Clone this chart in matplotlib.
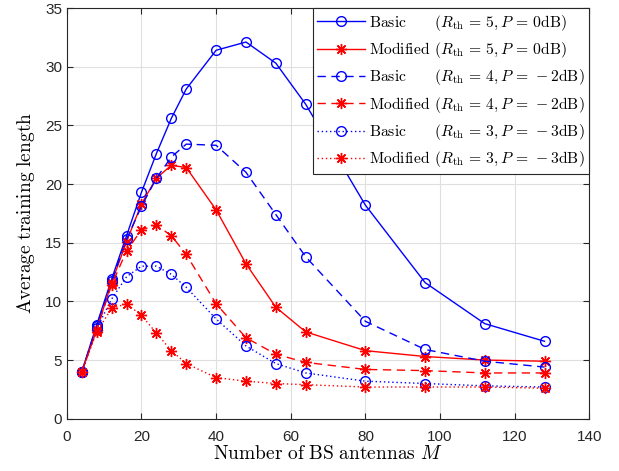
import matplotlib
matplotlib.use("Agg")
import matplotlib.pyplot as plt

# number of BS antennas
M = [4, 8, 12, 16, 20, 24, 28, 32, 40, 48, 56, 64, 80, 96, 112, 128]

basic_r5 = [4.0, 8.0, 11.9, 15.6, 19.3, 22.6, 25.6, 28.1, 31.4, 32.1, 30.3, 26.8, 18.2, 11.6, 8.1, 6.6]
modified_r5 = [4.0, 7.6, 11.6, 15.1, 18.3, 20.5, 21.6, 21.4, 17.8, 13.2, 9.5, 7.4, 5.8, 5.3, 5.0, 4.9]
basic_r4 = [4.0, 7.9, 11.7, 15.3, 18.1, 20.5, 22.3, 23.4, 23.3, 21.0, 17.4, 13.8, 8.3, 5.9, 4.9, 4.4]
modified_r4 = [4.0, 7.6, 11.4, 14.3, 16.1, 16.5, 15.6, 14.0, 9.8, 6.9, 5.5, 4.8, 4.2, 4.1, 3.9, 3.9]
basic_r3 = [4.0, 7.7, 10.2, 12.1, 13.0, 13.0, 12.3, 11.2, 8.5, 6.2, 4.7, 3.9, 3.2, 3.0, 2.8, 2.7]
modified_r3 = [4.0, 7.4, 9.4, 9.8, 8.8, 7.3, 5.8, 4.7, 3.5, 3.2, 3.0, 2.9, 2.7, 2.7, 2.7, 2.6]

params = [("5", "0"), ("5", "0"), ("4", "-2"), ("4", "-2"), ("3", "-3"), ("3", "-3")]
names = ["Basic", "Modified"] * 3

plt.rcParams["mathtext.fontset"] = "cm"
plt.rcParams["font.family"] = ["Liberation Sans", "DejaVu Sans"]

fig = plt.figure(figsize=(6.19, 4.71), dpi=100)
ax = fig.add_axes([0.108, 0.111, 0.844, 0.872])

# measure text widths so that the "(" of all legend rows line up
LEG_FS = 11.25
renderer = fig.canvas.get_renderer()


def width(s):
    t = fig.text(0, 0, s, fontsize=LEG_FS)
    w = t.get_window_extent(renderer).width
    t.remove()
    return w


unit = width(r"$x\hspace{4}x$") / 4 - width(r"$xx$") / 4
w_basic = width(r"$\mathrm{Basic}x$")
w_mod = width(r"$\mathrm{Modified}x$")
base_gap = 0.4
gaps = {"Modified": base_gap, "Basic": base_gap + (w_mod - w_basic) / unit}

labels = []
for name, (r, p) in zip(names, params):
    labels.append(r"$\mathrm{%s}\hspace{%.3f}(R_{\mathrm{th}}\,=\,%s, P\,=\,%s\mathrm{dB})$"
                  % (name, gaps[name], r, p))

star = (8, 2, 0)
circ = dict(marker="o", markersize=7, markerfacecolor="none", markeredgewidth=1)
ast = dict(marker=star, markersize=8, markeredgewidth=1)

ax.plot(M, basic_r5, color="b", linestyle="-", lw=1, label=labels[0], **circ)
ax.plot(M, modified_r5, color="r", linestyle="-", lw=1, label=labels[1], **ast)
ax.plot(M, basic_r4, color="b", linestyle=(0, (6, 4)), lw=1, label=labels[2], **circ)
ax.plot(M, modified_r4, color="r", linestyle=(0, (6, 4)), lw=1, label=labels[3], **ast)
ax.plot(M, basic_r3, color="b", linestyle=(0, (1, 2)), lw=1, label=labels[4], **circ)
ax.plot(M, modified_r3, color="r", linestyle=(0, (1, 2)), lw=1, label=labels[5], **ast)

ax.set_xlim(0, 140)
ax.set_ylim(0, 35)
ax.set_xticks(range(0, 141, 20))
ax.set_yticks(range(0, 36, 5))
ax.grid(True, color="#dfdfdf", lw=0.8)
ax.set_axisbelow(True)
ax.tick_params(direction="in", top=True, right=True, length=4, labelsize=11,
               color="#262626", labelcolor="#262626")
ax.tick_params(axis="x", pad=8)
for s in ax.spines.values():
    s.set_color("#262626")
    s.set_linewidth(0.8)

ax.set_xlabel(r"$\mathrm{Number\ of\ BS\ antennas}\ M$", fontsize=14, labelpad=1)
ax.set_ylabel(r"$\mathrm{Average\ training\ length}$", fontsize=14, labelpad=6)

leg = ax.legend(loc="upper right", fontsize=LEG_FS, borderaxespad=0, fancybox=False,
                framealpha=1, edgecolor="#262626", handlelength=3.05, labelspacing=0.47,
                borderpad=0.3, handletextpad=0.25)
leg.get_frame().set_linewidth(0.8)

fig.savefig("out.png", dpi=100)
